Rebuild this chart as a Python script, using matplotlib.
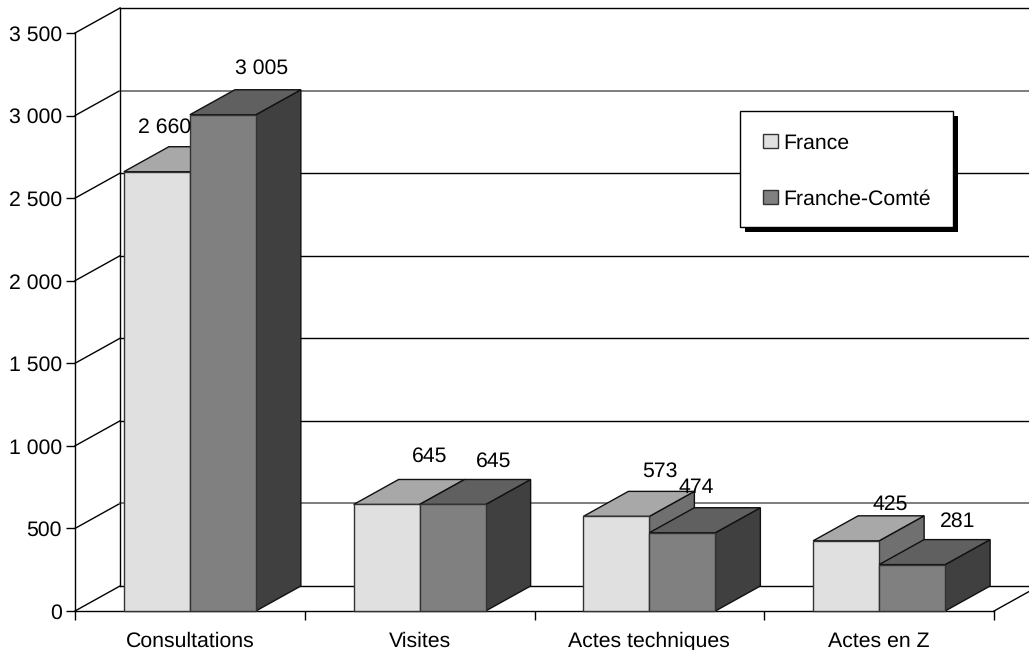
import matplotlib
matplotlib.use("Agg")
import matplotlib.pyplot as plt
from matplotlib.patches import Polygon, Patch, Rectangle

plt.rcParams['font.family'] = ['Liberation Sans', 'DejaVu Sans']
plt.rcParams['text.hinting'] = 'no_hinting'

categories = ["Consultations", "Visites", "Actes techniques", "Actes en Z"]
france = [2660, 645, 573, 425]
franche_comte = [3005, 645, 474, 281]
y_ticks = [0, 500, 1000, 1500, 2000, 2500, 3000, 3500]
y_labels = ["0", "500", "1 000", "1 500", "2 000", "2 500", "3 000", "3 500"]
series_names = ["France", "Franche-Comté"]

W, H = 1029, 650
LEFT, RIGHT, BOTTOM, TOP = 75, 994, 611, 33
FS = 15.3
fig = plt.figure(figsize=(W / 100, H / 100), dpi=100)
ax = fig.add_axes([LEFT / W, 1 - BOTTOM / H, (RIGHT - LEFT) / W, (BOTTOM - TOP) / H])
ax.patch.set_visible(False)
ax.set_xlim(0, 4)
ax.set_ylim(0, 3500)

# depth of the pseudo-3D box, in data units
DX = 45 / ((RIGHT - LEFT) / 4)
DY = 25 / ((BOTTOM - TOP) / 3500)
XEND = 4 + DX  # runs off the figure edge

line = dict(color="black", lw=1, clip_on=False, zorder=1)
for v in y_ticks:
    ax.plot([0, DX], [v, v + DY], **line)
    if v in (500, 3000):
        ax.plot([DX, XEND], [v + DY, v + DY], color="#808080", lw=1.44, clip_on=False, zorder=1)
    else:
        ax.plot([DX, XEND], [v + DY, v + DY], **line)
ax.plot([DX, DX], [DY, 3500 + DY], **line)
ax.plot([4, XEND], [0, DY], **line)

BAR_W = 66 / ((RIGHT - LEFT) / 4)
GAP = (1 - 2 * BAR_W) / 2
colors = [("#E0E0E0", "#A8A8A8", "#707070"), ("#808080", "#606060", "#404040")]
edge = dict(edgecolor="#111111", lw=1, clip_on=False)


def box(x, v, cols, z):
    ax.add_patch(Polygon([(x + BAR_W, 0), (x + BAR_W + DX, DY), (x + BAR_W + DX, v + DY), (x + BAR_W, v)],
                         facecolor=cols[2], zorder=z, **edge))
    ax.add_patch(Polygon([(x, v), (x + DX, v + DY), (x + BAR_W + DX, v + DY), (x + BAR_W, v)],
                         facecolor=cols[1], zorder=z, **edge))
    ax.bar(x, v, BAR_W, align="edge", color=cols[0], edgecolor="#333333", lw=1, zorder=z, clip_on=False)


for i, (a, b) in enumerate(zip(france, franche_comte)):
    box(i + GAP, a, colors[0], 2 + i)
    box(i + GAP + BAR_W, b, colors[1], 2.5 + i)

# data labels: pixel offset from the front-top centre of each bar
off_a = [(8, 44), (43, 48), (43, 45), (44, 36)]
off_b = [(39, 46), (41, 43), (14, 45), (46, 43)]


def fmt(v):
    return f"{v:,}".replace(",", " ")


for i in range(4):
    for vals, offs, k in ((france, off_a, 0), (franche_comte, off_b, 1)):
        ax.annotate(fmt(vals[i]), xy=(i + GAP + BAR_W * (k + 0.5), vals[i]),
                    xytext=offs[i], textcoords="offset pixels",
                    ha="center", va="center", fontsize=FS, color="black",
                    zorder=10, annotation_clip=False)

ax.spines[["top", "right"]].set_visible(False)
for s in ("left", "bottom"):
    ax.spines[s].set_linewidth(1)
    ax.spines[s].set_zorder(1.5)

ax.set_yticks(y_ticks, y_labels)
ax.set_xticks(range(5), [""] * 5)
ax.set_xticks([i + 0.5 for i in range(4)], categories, minor=True)
ax.tick_params(axis="y", length=6.5, width=1, pad=3, labelsize=FS)
ax.tick_params(axis="x", which="major", length=6.5, width=1)
ax.tick_params(axis="x", which="minor", length=0, pad=15, labelsize=FS)

# legend box with its hard shadow
def px_rect(x0, y0, x1, y1, **kw):
    ax.add_patch(Rectangle((x0 / W, 1 - y1 / H), (x1 - x0) / W, (y1 - y0) / H,
                           transform=fig.transFigure, clip_on=False, **kw))


px_rect(745, 116, 958, 232, facecolor="black", edgecolor="none", zorder=18)
px_rect(740, 111.5, 953, 226.5, facecolor="white", edgecolor="black", lw=1, zorder=19)

handles = [Patch(facecolor=colors[0][0], edgecolor="#333333", lw=1),
           Patch(facecolor=colors[1][0], edgecolor="#333333", lw=1)]
leg = ax.legend(handles, series_names, loc="upper left",
                bbox_to_anchor=(740 / W, 1 - 110 / H), bbox_transform=fig.transFigure,
                borderaxespad=0, borderpad=1.1, labelspacing=1.72,
                handlelength=0.67, handleheight=0.67, handletextpad=0.28,
                fontsize=FS, frameon=False, labelcolor="black")
leg.set_zorder(20)

fig.savefig("out.png", dpi=100)
